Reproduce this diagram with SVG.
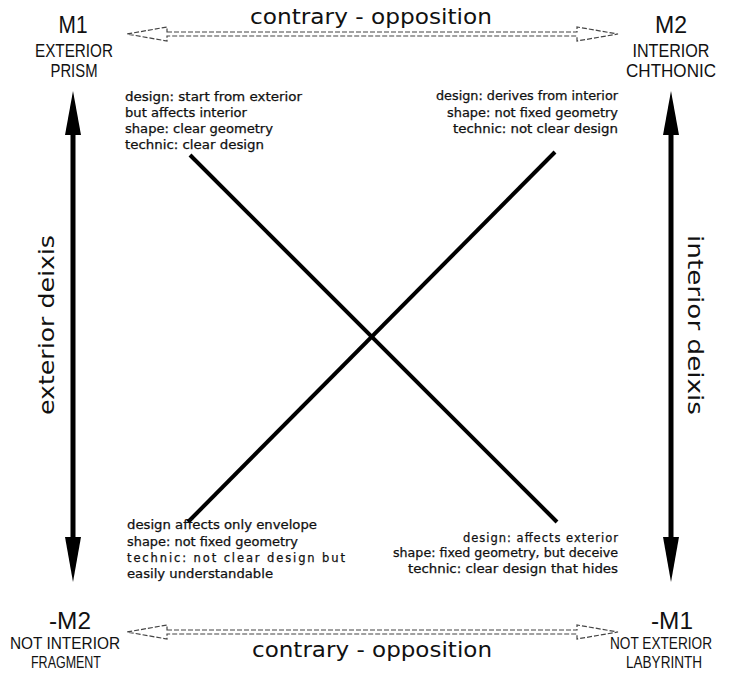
<svg xmlns="http://www.w3.org/2000/svg" width="730" height="673" viewBox="0 0 730 673">
<style>
.cap{font-family:"Liberation Sans",Arial,sans-serif;fill:#111;text-anchor:middle}
.m{font-size:23px}
.lb{font-size:18px}
.lbs{font-size:16px}
.t{font-family:"DejaVu Sans","Liberation Sans",sans-serif;font-size:11.5px;fill:#111;stroke:#111;stroke-width:0.25}
.big{font-family:"DejaVu Sans","Liberation Sans",sans-serif;font-size:22px;fill:#111}
.dash{fill:none;stroke:#444;stroke-width:1.2;stroke-dasharray:5 2}
.solid{stroke:#000;stroke-width:4;fill:none}
.shaft{stroke:#000;stroke-width:5}
</style>
<defs>
<path id="dArrow" d="M167,-2 H577 V-7 L618,0 L577,7 V2 H167 V7 L127,0 L167,-7 Z"/>
</defs>
<rect width="730" height="673" fill="#fff"/>

<g id="connectors">
  <use href="#dArrow" class="dash" transform="translate(0,34)"/>
  <use href="#dArrow" class="dash" transform="translate(0,632)"/>
  <line class="shaft" x1="73" y1="130" x2="73" y2="540"/>
  <polygon points="73,91 65,135 81,135" fill="#000"/>
  <polygon points="73,582 65,537 81,537" fill="#000"/>
  <line class="shaft" x1="671" y1="130" x2="671" y2="540"/>
  <polygon points="671,91 663,135 679,135" fill="#000"/>
  <polygon points="671,582 663,537 679,537" fill="#000"/>
  <line class="solid" x1="190" y1="155" x2="557" y2="522"/>
  <line class="solid" x1="555" y1="152" x2="188" y2="522"/>
</g>

<g id="label-top">
  <text class="big" x="250" y="24" textLength="242" lengthAdjust="spacingAndGlyphs">contrary - opposition</text>
</g>
<g id="label-bottom">
  <text class="big" x="252" y="657" textLength="240" lengthAdjust="spacingAndGlyphs">contrary - opposition</text>
</g>

<g id="node-M1">
  <text class="cap m" x="73" y="33" textLength="29" lengthAdjust="spacingAndGlyphs">M1</text>
  <text class="cap lb" x="74" y="57" textLength="78" lengthAdjust="spacingAndGlyphs">EXTERIOR</text>
  <text class="cap lb" x="74" y="77" textLength="47" lengthAdjust="spacingAndGlyphs">PRISM</text>
</g>
<g id="node-M2">
  <text class="cap m" x="671" y="33" textLength="32" lengthAdjust="spacingAndGlyphs">M2</text>
  <text class="cap lb" x="671" y="57" textLength="77" lengthAdjust="spacingAndGlyphs">INTERIOR</text>
  <text class="cap lb" x="671" y="77" textLength="90" lengthAdjust="spacingAndGlyphs">CHTHONIC</text>
</g>
<g id="node-notM2">
  <text class="cap m" x="70" y="629" textLength="42" lengthAdjust="spacingAndGlyphs">-M2</text>
  <text class="cap lbs" x="65" y="649" textLength="110" lengthAdjust="spacingAndGlyphs">NOT INTERIOR</text>
  <text class="cap lbs" x="66" y="668" textLength="70" lengthAdjust="spacingAndGlyphs">FRAGMENT</text>
</g>
<g id="node-notM1">
  <text class="cap m" x="672" y="629" textLength="42" lengthAdjust="spacingAndGlyphs">-M1</text>
  <text class="cap lbs" x="661" y="649" textLength="102" lengthAdjust="spacingAndGlyphs">NOT EXTERIOR</text>
  <text class="cap lbs" x="664" y="668" textLength="76" lengthAdjust="spacingAndGlyphs">LABYRINTH</text>
</g>

<g id="label-exterior-deixis">
  <text class="big" transform="translate(54,325) rotate(-90)" x="-90" y="0" font-size="23" textLength="180" lengthAdjust="spacingAndGlyphs">exterior deixis</text>
</g>
<g id="label-interior-deixis">
  <text class="big" transform="translate(688,325) rotate(90)" x="-90" y="0" font-size="23" textLength="180" lengthAdjust="spacingAndGlyphs">interior deixis</text>
</g>

<g id="text-top-left">
  <text class="t" x="125" y="101" textLength="177" lengthAdjust="spacingAndGlyphs">design: start from exterior</text>
  <text class="t" x="125" y="117" textLength="122" lengthAdjust="spacingAndGlyphs">but affects interior</text>
  <text class="t" x="125" y="133" textLength="148" lengthAdjust="spacingAndGlyphs">shape: clear geometry</text>
  <text class="t" x="125" y="149" textLength="139" lengthAdjust="spacingAndGlyphs">technic: clear design</text>
</g>
<g id="text-top-right">
  <text class="t" x="436" y="100" textLength="182" lengthAdjust="spacingAndGlyphs">design: derives from interior</text>
  <text class="t" x="447" y="117" textLength="171" lengthAdjust="spacingAndGlyphs">shape: not fixed geometry</text>
  <text class="t" x="453" y="133" textLength="165" lengthAdjust="spacingAndGlyphs">technic: not clear design</text>
</g>
<g id="text-bottom-left">
  <text class="t" x="127" y="529" textLength="190" lengthAdjust="spacingAndGlyphs">design affects only envelope</text>
  <text class="t" x="127" y="546" textLength="171" lengthAdjust="spacingAndGlyphs">shape: not fixed geometry</text>
  <text class="t" x="127" y="562" textLength="218" lengthAdjust="spacing">technic: not clear design but</text>
  <text class="t" x="127" y="578" textLength="146" lengthAdjust="spacingAndGlyphs">easily understandable</text>
</g>
<g id="text-bottom-right">
  <text class="t" x="463" y="542" textLength="155" lengthAdjust="spacing">design:  affects exterior</text>
  <text class="t" x="393" y="557" textLength="225" lengthAdjust="spacingAndGlyphs">shape: fixed geometry, but deceive</text>
  <text class="t" x="408" y="573" textLength="210" lengthAdjust="spacingAndGlyphs">technic: clear design that hides</text>
</g>
</svg>
